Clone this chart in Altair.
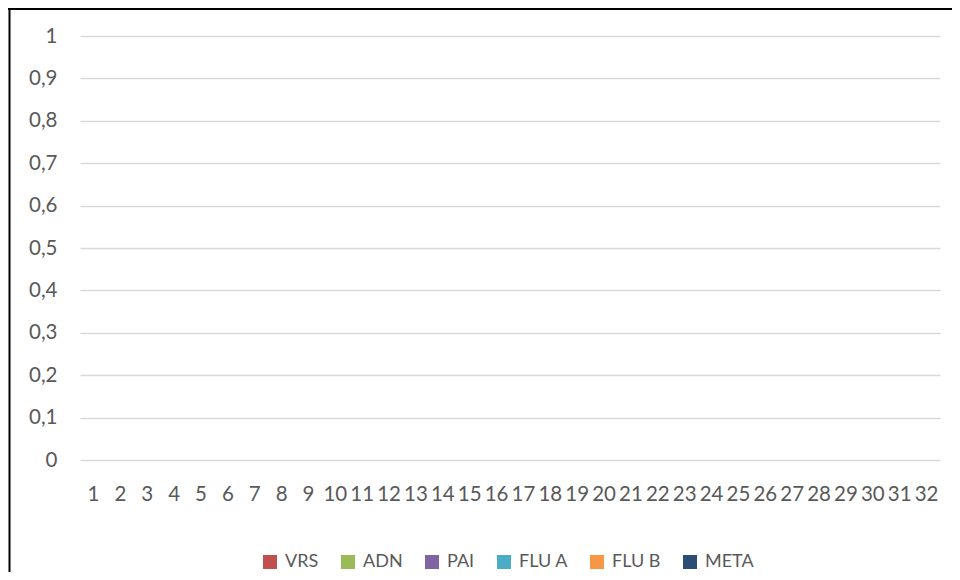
import altair as alt
import pandas as pd

categories = list(range(1, 33))
series = ["VRS", "ADN", "PAI", "FLU A", "FLU B", "META"]
colors = ["#C0504D", "#9BBB59", "#8064A2", "#4BACC6", "#F79646", "#2C4D75"]
# all series are empty (zero) in the reference
values = {s: [0] * len(categories) for s in series}

rows = []
for s in series:
    for c, v in zip(categories, values[s]):
        rows.append({"cat": str(c), "series": s, "value": v})
df = pd.DataFrame(rows)

FONT = "Lato"
TXT = "#595959"
FS = 20.5
W, H = 860, 424
PL, PT, PR, PB = 72, 28, 12, 112

bars = alt.Chart(df).mark_bar().encode(
    x=alt.X("cat:N", sort=[str(c) for c in categories], title=None,
            scale=alt.Scale(paddingInner=0.2, paddingOuter=0.1),
            axis=alt.Axis(labelAngle=0, labelOverlap=False, domain=False, ticks=False,
                          labelPadding=24, labelFontSize=FS, labelColor=TXT, labelFont=FONT)),
    xOffset=alt.XOffset("series:N", sort=series),
    y=alt.Y("value:Q", title=None, scale=alt.Scale(domain=[0, 1]),
            axis=alt.Axis(values=[i / 10 for i in range(11)], domain=False, ticks=False,
                          gridColor="#D9D9D9", gridWidth=1.3, labelPadding=23,
                          labelFontSize=FS, labelColor=TXT, labelFont=FONT,
                          labelExpr="replace(format(datum.value, '.1~f'), '.', ',')")),
    color=alt.Color("series:N", sort=series,
                    scale=alt.Scale(domain=series, range=colors),
                    legend=alt.Legend(title=None, orient="none", direction="horizontal",
                                      legendX=181, legendY=H + 93,
                                      symbolType="square", symbolSize=196,
                                      symbolStrokeWidth=0, symbolOpacity=1,
                                      labelFontSize=18, labelColor=TXT, labelFont=FONT,
                                      columnPadding=20, labelOffset=6)),
)

border = pd.DataFrame({"a": [0]})
top_line = alt.Chart(border).mark_rule(color="#000000", strokeWidth=2).encode(
    x=alt.value(-PL), x2=alt.value(W + PR), y=alt.value(-PT + 1),
)
left_line = alt.Chart(border).mark_rule(color="#000000", strokeWidth=2).encode(
    x=alt.value(-PL + 1.5), y=alt.value(-PT), y2=alt.value(H + PB),
)

chart = alt.layer(bars, top_line, left_line).properties(
    width=W, height=H,
    background="white",
    padding={"left": PL, "top": PT, "right": PR, "bottom": PB},
    autosize=alt.AutoSizeParams(type="none"),
).configure_view(stroke=None)

chart.save("out.html", embed_options={"renderer": "svg", "actions": False})
